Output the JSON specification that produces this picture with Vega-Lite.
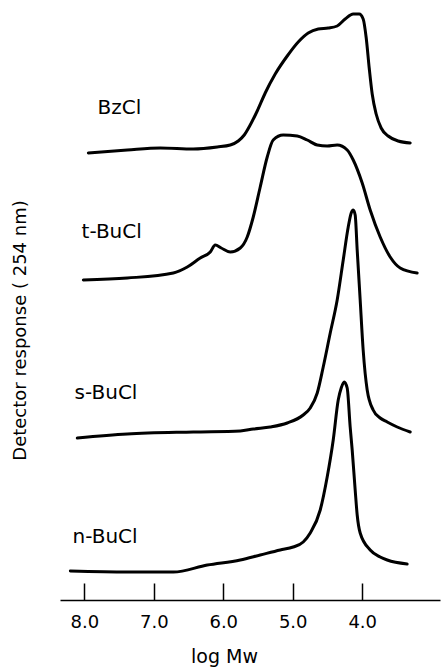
{
  "$schema": "https://vega.github.io/schema/vega-lite/v6.json",
  "width": 380,
  "height": 600,
  "autosize": {"type": "none"},
  "padding": {"left": 60, "top": 0, "right": 1, "bottom": 68},
  "config": {
    "view": {"stroke": null},
    "font": "DejaVu Sans",
    "background": "white"
  },
  "datasets": {
    "curves": [
      {"sample": "BzCl", "i": 1, "logMw": 7.942, "response": 447},
      {"sample": "BzCl", "i": 2, "logMw": 7.381, "response": 450},
      {"sample": "BzCl", "i": 3, "logMw": 6.906, "response": 452},
      {"sample": "BzCl", "i": 4, "logMw": 6.432, "response": 451},
      {"sample": "BzCl", "i": 5, "logMw": 6.086, "response": 453},
      {"sample": "BzCl", "i": 6, "logMw": 5.899, "response": 455},
      {"sample": "BzCl", "i": 7, "logMw": 5.784, "response": 459},
      {"sample": "BzCl", "i": 8, "logMw": 5.698, "response": 465},
      {"sample": "BzCl", "i": 9, "logMw": 5.612, "response": 475},
      {"sample": "BzCl", "i": 10, "logMw": 5.511, "response": 489},
      {"sample": "BzCl", "i": 11, "logMw": 5.396, "response": 507},
      {"sample": "BzCl", "i": 12, "logMw": 5.252, "response": 526},
      {"sample": "BzCl", "i": 13, "logMw": 5.079, "response": 544},
      {"sample": "BzCl", "i": 14, "logMw": 4.921, "response": 558},
      {"sample": "BzCl", "i": 15, "logMw": 4.777, "response": 567},
      {"sample": "BzCl", "i": 16, "logMw": 4.633, "response": 571},
      {"sample": "BzCl", "i": 17, "logMw": 4.489, "response": 572},
      {"sample": "BzCl", "i": 18, "logMw": 4.360, "response": 574},
      {"sample": "BzCl", "i": 19, "logMw": 4.245, "response": 581},
      {"sample": "BzCl", "i": 20, "logMw": 4.129, "response": 586},
      {"sample": "BzCl", "i": 21, "logMw": 4.043, "response": 586},
      {"sample": "BzCl", "i": 22, "logMw": 3.986, "response": 581},
      {"sample": "BzCl", "i": 23, "logMw": 3.942, "response": 562},
      {"sample": "BzCl", "i": 24, "logMw": 3.899, "response": 532},
      {"sample": "BzCl", "i": 25, "logMw": 3.856, "response": 506},
      {"sample": "BzCl", "i": 26, "logMw": 3.799, "response": 486},
      {"sample": "BzCl", "i": 27, "logMw": 3.727, "response": 472},
      {"sample": "BzCl", "i": 28, "logMw": 3.626, "response": 464},
      {"sample": "BzCl", "i": 29, "logMw": 3.482, "response": 459},
      {"sample": "BzCl", "i": 30, "logMw": 3.309, "response": 457},

      {"sample": "t-BuCl", "i": 1, "logMw": 8.014, "response": 320},
      {"sample": "t-BuCl", "i": 2, "logMw": 7.381, "response": 322},
      {"sample": "t-BuCl", "i": 3, "logMw": 6.719, "response": 327},
      {"sample": "t-BuCl", "i": 4, "logMw": 6.518, "response": 333},
      {"sample": "t-BuCl", "i": 5, "logMw": 6.331, "response": 342},
      {"sample": "t-BuCl", "i": 6, "logMw": 6.187, "response": 348},
      {"sample": "t-BuCl", "i": 7, "logMw": 6.115, "response": 355},
      {"sample": "t-BuCl", "i": 8, "logMw": 6.029, "response": 352},
      {"sample": "t-BuCl", "i": 9, "logMw": 5.899, "response": 348},
      {"sample": "t-BuCl", "i": 10, "logMw": 5.755, "response": 352},
      {"sample": "t-BuCl", "i": 11, "logMw": 5.655, "response": 363},
      {"sample": "t-BuCl", "i": 12, "logMw": 5.568, "response": 383},
      {"sample": "t-BuCl", "i": 13, "logMw": 5.468, "response": 413},
      {"sample": "t-BuCl", "i": 14, "logMw": 5.367, "response": 443},
      {"sample": "t-BuCl", "i": 15, "logMw": 5.281, "response": 460},
      {"sample": "t-BuCl", "i": 16, "logMw": 5.137, "response": 465},
      {"sample": "t-BuCl", "i": 17, "logMw": 4.935, "response": 464},
      {"sample": "t-BuCl", "i": 18, "logMw": 4.791, "response": 460},
      {"sample": "t-BuCl", "i": 19, "logMw": 4.647, "response": 455},
      {"sample": "t-BuCl", "i": 20, "logMw": 4.504, "response": 454},
      {"sample": "t-BuCl", "i": 21, "logMw": 4.360, "response": 455},
      {"sample": "t-BuCl", "i": 22, "logMw": 4.216, "response": 450},
      {"sample": "t-BuCl", "i": 23, "logMw": 4.129, "response": 440},
      {"sample": "t-BuCl", "i": 24, "logMw": 4.000, "response": 417},
      {"sample": "t-BuCl", "i": 25, "logMw": 3.885, "response": 390},
      {"sample": "t-BuCl", "i": 26, "logMw": 3.741, "response": 363},
      {"sample": "t-BuCl", "i": 27, "logMw": 3.597, "response": 343},
      {"sample": "t-BuCl", "i": 28, "logMw": 3.453, "response": 332},
      {"sample": "t-BuCl", "i": 29, "logMw": 3.209, "response": 327},

      {"sample": "s-BuCl", "i": 1, "logMw": 8.101, "response": 162},
      {"sample": "s-BuCl", "i": 2, "logMw": 7.381, "response": 166},
      {"sample": "s-BuCl", "i": 3, "logMw": 6.432, "response": 168},
      {"sample": "s-BuCl", "i": 4, "logMw": 5.755, "response": 169},
      {"sample": "s-BuCl", "i": 5, "logMw": 5.568, "response": 171},
      {"sample": "s-BuCl", "i": 6, "logMw": 5.324, "response": 173},
      {"sample": "s-BuCl", "i": 7, "logMw": 5.079, "response": 177},
      {"sample": "s-BuCl", "i": 8, "logMw": 4.849, "response": 185},
      {"sample": "s-BuCl", "i": 9, "logMw": 4.748, "response": 192},
      {"sample": "s-BuCl", "i": 10, "logMw": 4.647, "response": 207},
      {"sample": "s-BuCl", "i": 11, "logMw": 4.561, "response": 233},
      {"sample": "s-BuCl", "i": 12, "logMw": 4.460, "response": 267},
      {"sample": "s-BuCl", "i": 13, "logMw": 4.360, "response": 300},
      {"sample": "s-BuCl", "i": 14, "logMw": 4.273, "response": 340},
      {"sample": "s-BuCl", "i": 15, "logMw": 4.201, "response": 373},
      {"sample": "s-BuCl", "i": 16, "logMw": 4.158, "response": 387},
      {"sample": "s-BuCl", "i": 17, "logMw": 4.129, "response": 390},
      {"sample": "s-BuCl", "i": 18, "logMw": 4.101, "response": 385},
      {"sample": "s-BuCl", "i": 19, "logMw": 4.072, "response": 350},
      {"sample": "s-BuCl", "i": 20, "logMw": 4.029, "response": 300},
      {"sample": "s-BuCl", "i": 21, "logMw": 3.986, "response": 250},
      {"sample": "s-BuCl", "i": 22, "logMw": 3.928, "response": 210},
      {"sample": "s-BuCl", "i": 23, "logMw": 3.842, "response": 190},
      {"sample": "s-BuCl", "i": 24, "logMw": 3.741, "response": 182},
      {"sample": "s-BuCl", "i": 25, "logMw": 3.640, "response": 178},
      {"sample": "s-BuCl", "i": 26, "logMw": 3.496, "response": 173},
      {"sample": "s-BuCl", "i": 27, "logMw": 3.309, "response": 168},

      {"sample": "n-BuCl", "i": 1, "logMw": 8.201, "response": 29},
      {"sample": "n-BuCl", "i": 2, "logMw": 7.381, "response": 28},
      {"sample": "n-BuCl", "i": 3, "logMw": 6.719, "response": 28},
      {"sample": "n-BuCl", "i": 4, "logMw": 6.230, "response": 35},
      {"sample": "n-BuCl", "i": 5, "logMw": 5.755, "response": 40},
      {"sample": "n-BuCl", "i": 6, "logMw": 5.468, "response": 45},
      {"sample": "n-BuCl", "i": 7, "logMw": 5.180, "response": 50},
      {"sample": "n-BuCl", "i": 8, "logMw": 4.993, "response": 53},
      {"sample": "n-BuCl", "i": 9, "logMw": 4.849, "response": 58},
      {"sample": "n-BuCl", "i": 10, "logMw": 4.748, "response": 67},
      {"sample": "n-BuCl", "i": 11, "logMw": 4.604, "response": 90},
      {"sample": "n-BuCl", "i": 12, "logMw": 4.504, "response": 123},
      {"sample": "n-BuCl", "i": 13, "logMw": 4.417, "response": 160},
      {"sample": "n-BuCl", "i": 14, "logMw": 4.345, "response": 200},
      {"sample": "n-BuCl", "i": 15, "logMw": 4.302, "response": 212},
      {"sample": "n-BuCl", "i": 16, "logMw": 4.259, "response": 218},
      {"sample": "n-BuCl", "i": 17, "logMw": 4.216, "response": 212},
      {"sample": "n-BuCl", "i": 18, "logMw": 4.173, "response": 173},
      {"sample": "n-BuCl", "i": 19, "logMw": 4.144, "response": 150},
      {"sample": "n-BuCl", "i": 20, "logMw": 4.101, "response": 110},
      {"sample": "n-BuCl", "i": 21, "logMw": 4.072, "response": 85},
      {"sample": "n-BuCl", "i": 22, "logMw": 4.029, "response": 67},
      {"sample": "n-BuCl", "i": 23, "logMw": 3.885, "response": 50},
      {"sample": "n-BuCl", "i": 24, "logMw": 3.741, "response": 43},
      {"sample": "n-BuCl", "i": 25, "logMw": 3.640, "response": 40},
      {"sample": "n-BuCl", "i": 26, "logMw": 3.353, "response": 36}
    ],
    "labels": [
      {"label": "BzCl", "logMw": 7.81, "response": 492},
      {"label": "t-BuCl", "logMw": 8.04, "response": 368},
      {"label": "s-BuCl", "logMw": 8.14, "response": 207},
      {"label": "n-BuCl", "logMw": 8.17, "response": 63}
    ]
  },
  "layer": [
    {
      "data": {"name": "curves"},
      "mark": {"type": "line", "color": "black", "strokeWidth": 3, "interpolate": "monotone", "strokeCap": "round", "strokeJoin": "round"},
      "encoding": {
        "x": {
          "field": "logMw", "type": "quantitative",
          "scale": {"domain": [2.88, 8.35], "reverse": true, "nice": false, "zero": false},
          "axis": {
            "values": [8, 7, 6, 5, 4],
            "format": ".1f",
            "title": "log Mw",
            "domainColor": "black",
            "domainWidth": 1.5,
            "tickColor": "black",
            "tickWidth": 1.5,
            "tickSize": -17,
            "labelPadding": 30,
            "labelFontSize": 18,
            "labelColor": "black",
            "labelFont": "DejaVu Sans",
            "grid": false,
            "titleFontSize": 19,
            "titleFontWeight": "normal",
            "titleColor": "black",
            "titleX": 164,
            "titleY": 56,
            "titleBaseline": "middle"
          }
        },
        "y": {
          "field": "response", "type": "quantitative",
          "scale": {"domain": [0, 600], "nice": false, "zero": false},
          "axis": {
            "title": "Detector response  ( 254 nm)",
            "domain": false, "ticks": false, "labels": false, "grid": false,
            "titleFontSize": 18,
            "titleFontWeight": "normal",
            "titleColor": "black",
            "titleX": -40,
            "titleY": 330,
            "titleBaseline": "middle",
            "titleAlign": "center"
          }
        },
        "detail": {"field": "sample", "type": "nominal"},
        "order": {"field": "i", "type": "quantitative"}
      }
    },
    {
      "data": {"name": "labels"},
      "mark": {"type": "text", "align": "left", "baseline": "middle", "fontSize": 20, "color": "black"},
      "encoding": {
        "x": {"field": "logMw", "type": "quantitative"},
        "y": {"field": "response", "type": "quantitative"},
        "text": {"field": "label", "type": "nominal"}
      }
    }
  ]
}
